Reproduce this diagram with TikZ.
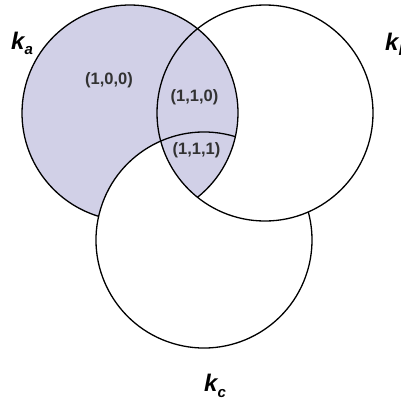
\documentclass[tikz,border=0pt]{standalone}
\usepackage{fontspec}
\setmainfont{Liberation Sans}
\definecolor{lav}{RGB}{209,208,231}
\definecolor{txt}{RGB}{50,50,50}
\begin{document}
\begin{tikzpicture}[x=1pt,y=1pt,
  edge/.style={line width=1.3pt,black},
  region/.style={font=\fontsize{16.5}{16.5}\selectfont\bfseries,text=txt,inner sep=0pt},
  setlabel/.style={font=\fontsize{24}{24}\selectfont\bfseries\itshape,anchor=base west,inner sep=0pt}]
\useasboundingbox (0,0) rectangle (401,400);
\coordinate (A) at (130,287);
\coordinate (B) at (265,287);
\coordinate (C) at (204,160);
\def\R{108}
% fills
\fill[lav] (A) circle (\R);
\fill[white] (C) circle (\R);
\fill[white] (B) circle (\R);
\begin{scope}
  \clip (A) circle (\R);
  \fill[lav] (B) circle (\R);
\end{scope}
% outlines
\draw[edge] (B) circle (\R);
\draw[edge] ([shift={(-51.3:\R)}]A) arc[start angle=-51.3,end angle=253.1,radius=\R];
\draw[edge] ([shift={(73.1:\R)}]C) arc[start angle=73.1,end angle=375,radius=\R];
% region labels
\node[region] (r100) at (109,320) {(1,0,0)};
\node[region] (r110) at (194.5,302.5) {(1,1,0)};
\node[region] (r111) at (196.5,249.5) {(1,1,1)};
% set labels
\node[setlabel] (ka) at (11,351) {k\raisebox{-6pt}{\fontsize{15}{15}\selectfont a}};
\node[setlabel] (kb) at (385,350) {k\raisebox{-6pt}{\fontsize{15}{15}\selectfont b}};
\node[setlabel] (kc) at (204,9) {k\raisebox{-6pt}{\fontsize{15}{15}\selectfont c}};
\end{tikzpicture}
\end{document}
